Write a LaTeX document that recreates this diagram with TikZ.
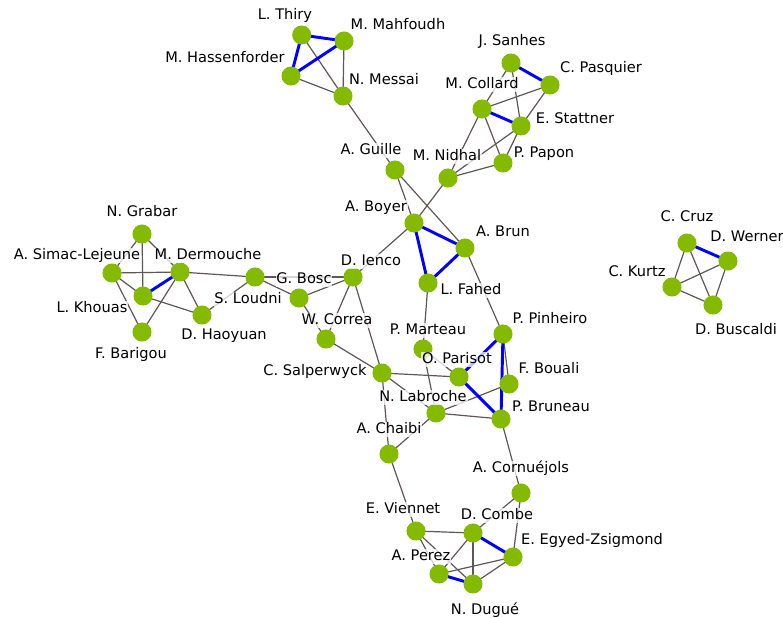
\documentclass[tikz,border=0pt]{standalone}
\usepackage{fontspec}
\setmainfont{DejaVu Sans}
\definecolor{nodegreen}{RGB}{132,187,0}
\definecolor{edgegray}{RGB}{95,86,86}
\definecolor{edgeblue}{RGB}{0,0,255}
\begin{document}
\begin{tikzpicture}[x=0.75pt,y=-0.75pt,
  vert/.style={circle,fill=nodegreen,draw=none,minimum size=14.3pt,inner sep=0pt},
  lab/.style={font=\fontsize{10.95}{13}\selectfont,text height=0.75em,text depth=0.2em,inner sep=0.6pt,fill=white,fill opacity=0.75,text opacity=1,yshift=-1.9pt},
  weak/.style={draw=edgegray,line width=0.9pt},
  strong/.style={draw=edgeblue,line width=2.2pt}]
\useasboundingbox (0,0) rectangle (783,618);
% coordinates of vertices
\coordinate (thiry) at (301.7,35);
\coordinate (mahfoudh) at (344,41);
\coordinate (hassen) at (291,76);
\coordinate (messai) at (343,96);
\coordinate (guille) at (395,170);
\coordinate (sanhes) at (511,63);
\coordinate (pasquier) at (550,85);
\coordinate (collard) at (482,109);
\coordinate (stattner) at (521,126);
\coordinate (papon) at (503,163);
\coordinate (nidhal) at (448,178);
\coordinate (boyer) at (414,223);
\coordinate (brun) at (465,248);
\coordinate (fahed) at (428,283);
\coordinate (ienco) at (353,277);
\coordinate (grabar) at (142,234);
\coordinate (simac) at (112,273);
\coordinate (dermouche) at (180,272);
\coordinate (khouas) at (143,296);
\coordinate (barigou) at (142,332);
\coordinate (haoyuan) at (202,315);
\coordinate (bosc) at (255,277);
\coordinate (loudni) at (299,298);
\coordinate (correa) at (326,339);
\coordinate (salper) at (382,373);
\coordinate (marteau) at (423,349);
\coordinate (parisot) at (459,377);
\coordinate (pinheiro) at (503,334);
\coordinate (bouali) at (509,384);
\coordinate (labroche) at (436,413);
\coordinate (bruneau) at (501,419);
\coordinate (chaibi) at (389,454);
\coordinate (cornu) at (521,493);
\coordinate (viennet) at (416,531);
\coordinate (combe) at (473,533);
\coordinate (egyed) at (513,557);
\coordinate (perez) at (439,574);
\coordinate (dugue) at (473,584);
\coordinate (cruz) at (687,243);
\coordinate (werner) at (728,261);
\coordinate (kurtz) at (672,287);
\coordinate (buscaldi) at (713,305);
% gray edges
\foreach \a/\b in {thiry/messai,mahfoudh/messai,hassen/messai,messai/guille,guille/boyer,guille/brun,
  boyer/nidhal,boyer/ienco,brun/pinheiro,fahed/marteau,marteau/labroche,marteau/parisot,
  sanhes/collard,sanhes/stattner,collard/pasquier,collard/nidhal,collard/papon,pasquier/stattner,
  stattner/papon,stattner/nidhal,nidhal/papon,
  grabar/simac,grabar/dermouche,grabar/khouas,simac/dermouche,simac/khouas,simac/barigou,
  dermouche/barigou,dermouche/haoyuan,dermouche/bosc,khouas/haoyuan,bosc/haoyuan,bosc/ienco,
  bosc/loudni,loudni/ienco,loudni/correa,ienco/correa,ienco/salper,correa/salper,
  salper/parisot,salper/labroche,salper/chaibi,pinheiro/bouali,bouali/labroche,labroche/bruneau,
  labroche/chaibi,bruneau/cornu,chaibi/viennet,cornu/combe,cornu/egyed,viennet/combe,
  viennet/perez,viennet/dugue,combe/perez,combe/dugue,perez/egyed,dugue/egyed,
  cruz/kurtz,cruz/buscaldi,werner/kurtz,werner/buscaldi,kurtz/buscaldi}
  \draw[weak] (\a) -- (\b);
% blue edges
\foreach \a/\b in {thiry/mahfoudh,thiry/hassen,hassen/mahfoudh,sanhes/pasquier,collard/stattner,
  boyer/brun,boyer/fahed,brun/fahed,dermouche/khouas,parisot/pinheiro,parisot/bruneau,
  pinheiro/bruneau,combe/egyed,perez/dugue,cruz/werner}
  \draw[strong] (\a) -- (\b);
% vertices
\foreach \v in {thiry,mahfoudh,hassen,messai,guille,sanhes,pasquier,collard,stattner,papon,nidhal,
  boyer,brun,fahed,ienco,grabar,simac,dermouche,khouas,barigou,haoyuan,bosc,loudni,correa,salper,
  marteau,parisot,pinheiro,bouali,labroche,bruneau,chaibi,cornu,viennet,combe,egyed,perez,dugue,
  cruz,werner,kurtz,buscaldi}
  \node[vert] (n-\v) at (\v) {};
% labels
\node[lab] (l-thiry) at (285,13) {L. Thiry};
\node[lab] (l-mahfoudh) at (398,23) {M. Mahfoudh};
\node[lab] (l-hassen) at (225,56) {M. Hassenforder};
\node[lab] (l-messai) at (384,78) {N. Messai};
\node[lab] (l-guille) at (371,148) {A. Guille};
\node[lab] (l-sanhes) at (512,39) {J. Sanhes};
\node[lab] (l-pasquier) at (601,66) {C. Pasquier};
\node[lab] (l-collard) at (482,82) {M. Collard};
\node[lab] (l-stattner) at (575,117) {E. Stattner};
\node[lab] (l-nidhal) at (447,154) {M. Nidhal};
\node[lab] (l-papon) at (544,151) {P. Papon};
\node[lab] (l-boyer) at (376,205) {A. Boyer};
\node[lab] (l-brun) at (503,230) {A. Brun};
\node[lab] (l-fahed) at (471,288) {L. Fahed};
\node[lab] (l-ienco) at (371,259) {D. Ienco};
\node[lab] (l-grabar) at (142,210) {N. Grabar};
\node[lab] (l-simac) at (77,253) {A. Simac-Lejeune};
\node[lab] (l-dermouche) at (208,253) {M. Dermouche};
\node[lab] (l-khouas) at (92,306) {L. Khouas};
\node[lab] (l-barigou) at (131,352) {F. Barigou};
\node[lab] (l-haoyuan) at (224,333) {D. Haoyuan};
\node[lab] (l-bosc) at (304,277) {G. Bosc};
\node[lab] (l-loudni) at (248,297) {S. Loudni};
\node[lab] (l-correa) at (337,318) {W. Correa};
\node[lab] (l-salper) at (315,369) {C. Salperwyck};
\node[lab] (l-marteau) at (428,328) {P. Marteau};
\node[lab] (l-parisot) at (457,357) {O. Parisot};
\node[lab] (l-pinheiro) at (550,317) {P. Pinheiro};
\node[lab] (l-bouali) at (549,367) {F. Bouali};
\node[lab] (l-labroche) at (423,395) {N. Labroche};
\node[lab] (l-bruneau) at (551,405) {P. Bruneau};
\node[lab] (l-chaibi) at (389,427) {A. Chaibi};
\node[lab] (l-cornu) at (521,466) {A. Cornuéjols};
\node[lab] (l-viennet) at (403,507) {E. Viennet};
\node[lab] (l-combe) at (497,513) {D. Combe};
\node[lab] (l-egyed) at (592,538) {E. Egyed-Zsigmond};
\node[lab] (l-perez) at (421,554) {A. Perez};
\node[lab] (l-dugue) at (485,608) {N. Dugué};
\node[lab] (l-cruz) at (687,215) {C. Cruz};
\node[lab] (l-werner) at (747,235) {D. Werner};
\node[lab] (l-kurtz) at (637,270) {C. Kurtz};
\node[lab] (l-buscaldi) at (736,328) {D. Buscaldi};
\end{tikzpicture}
\end{document}
